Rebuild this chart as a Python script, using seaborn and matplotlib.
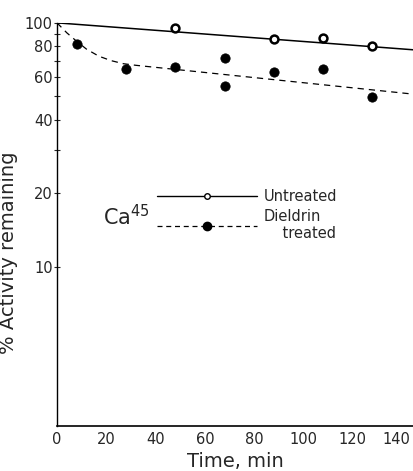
import numpy as np
import pandas as pd
import matplotlib
matplotlib.use('Agg')
import matplotlib.pyplot as plt
import matplotlib.transforms as mtransforms
from matplotlib.lines import Line2D
import seaborn as sns

# Measured points (time in min, % activity remaining)
untreated_time = [48, 88, 108, 128]
untreated_pct = [95, 86, 87, 80.5]

treated_time = [8, 28, 48, 68, 68, 88, 108, 128]
treated_pct = [82, 65, 66, 72, 55, 63, 65, 49.5]

# Hand drawn fitted lines
untreated_fit_time = [0, 145]
untreated_fit_pct = [100, 77.5]

treated_fit_time = [0, 4, 8, 12, 17, 22, 27, 32, 145]
treated_fit_pct = [100, 91, 84, 78, 73, 70, 68, 67, 51]

y_ticks = [100, 80, 60, 40, 20, 10]
y_minor = [90, 70, 50, 30]
x_ticks = [0, 20, 40, 60, 80, 100, 120, 140]

sns.set_style('white')
plt.rcParams['font.family'] = ['DejaVu Sans']

fig = plt.figure(figsize=(4.13, 4.71), dpi=100)
ax = fig.add_axes([0.138, 0.0955, 0.862, 0.856])

fit_u = pd.DataFrame({'t': untreated_fit_time, 'p': untreated_fit_pct})
fit_t = pd.DataFrame({'t': treated_fit_time, 'p': treated_fit_pct})
sns.lineplot(data=fit_u, x='t', y='p', color='black', linewidth=1.1, ax=ax)
sns.lineplot(data=fit_t, x='t', y='p', color='black', linewidth=0.9,
             linestyle=(0, (5, 4)), ax=ax)

sns.scatterplot(x=untreated_time, y=untreated_pct, marker='o', s=32,
                facecolor='white', edgecolor='black', linewidth=1.8, ax=ax, zorder=3)
sns.scatterplot(x=treated_time, y=treated_pct, marker='o', s=45,
                color='black', edgecolor='black', ax=ax, zorder=3)

ax.set_yscale('log')
ax.set_ylim(2.23, 100)
ax.set_xlim(0, 144.5)
ax.set_yticks(y_ticks)
ax.set_yticklabels([str(v) for v in y_ticks])
ax.set_yticks(y_minor, minor=True)
ax.set_xticks(x_ticks)
ax.tick_params(axis='y', which='both', direction='inout', length=4, width=0.8,
               left=True, labelsize=10.5, pad=1)
ax.tick_params(axis='x', length=0, labelsize=10.5, pad=4)

# keep the last x label inside the figure, as in the original
last = ax.get_xticklabels()[-1]
last.set_transform(last.get_transform() +
                   mtransforms.ScaledTranslation(-6 / 100, 0, fig.dpi_scale_trans))

sns.despine(ax=ax)
ax.spines['left'].set_linewidth(1.0)
ax.spines['bottom'].set_linewidth(1.2)
ax.spines['left'].set_color('black')
ax.spines['bottom'].set_color('black')

ax.set_xlabel('Time, min', fontsize=14, labelpad=4)
ax.set_ylabel('% Activity remaining', fontsize=14)
ax.yaxis.set_label_coords(-0.11, 0.43)

handles = [
    Line2D([0], [0], color='black', linewidth=1.0, marker='o', markersize=4,
           markerfacecolor='white', markeredgewidth=1.0),
    Line2D([0], [0], color='black', linewidth=0.9, linestyle=(0, (4, 3)),
           marker='o', markersize=6, markerfacecolor='black'),
]
ax.legend(handles, ['Untreated', 'Dieldrin\n    treated'], loc='upper left',
          bbox_to_anchor=(0.245, 0.62), frameon=False, handlelength=6.8,
          handletextpad=0.5, fontsize=10.5, labelspacing=0.3)
ax.text(0.13, 0.52, 'Ca$^{45}$', transform=ax.transAxes, fontsize=15,
        ha='left', va='center')

fig.savefig('out.png', dpi=100)
